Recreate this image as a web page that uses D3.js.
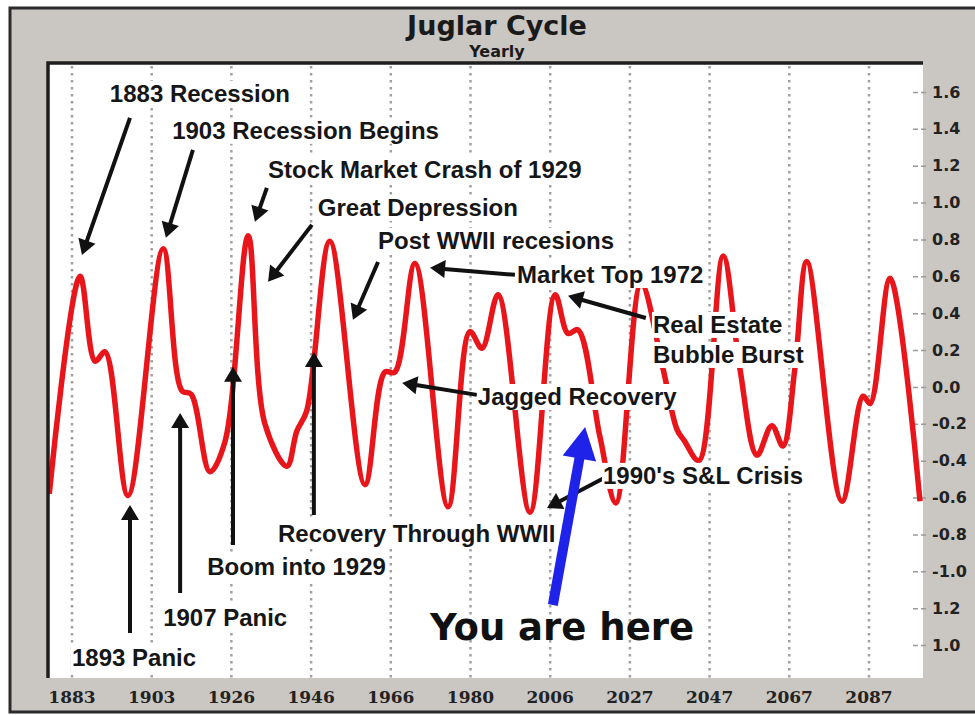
<!DOCTYPE html>
<html>
<head>
<meta charset="utf-8">
<script src="https://cdn.jsdelivr.net/npm/d3@7"></script>
<style>
  body { margin: 0; background: #fff; }
  svg { display: block; }
</style>
</head>
<body>
<svg id="chart" width="975" height="715"></svg>
<script>
// tick labels as printed on the original chart (odd ones kept as is)
const xTickYears = [1883, 1903, 1926, 1946, 1966, 1980, 2006, 2027, 2047, 2067, 2087];
const yTickValues = d3.range(16).map(i => +(1.6 - 0.2 * i).toFixed(1));
const yTickLabels = ["1.6", "1.4", "1.2", "1.0", "0.8", "0.6", "0.4", "0.2", "0.0",
                     "-0.2", "-0.4", "-0.6", "-0.8", "-1.0", "1.2", "1.0"];

// the cycle (turning points and shoulders)
const cycleYears = [1877.3, 1885.0, 1888.8, 1891.3, 1897.05, 1906.3, 1911.7, 1914.4, 1919.8, 1924.1,
                    1930.2, 1934.4, 1939.95, 1942.4, 1944.9, 1950.7, 1959.5, 1964.5, 1966.7, 1970.25,
                    1976.05, 1979.9, 1983.75, 1989.0, 1999.4, 2007.3, 2010.7, 2013.3, 2019.1, 2023.3,
                    2029.8, 2035.3, 2038.8, 2040.6, 2044.3, 2050.4, 2054.6, 2058.9, 2062.6, 2065.4,
                    2068.4, 2071.4, 2080.2, 2085.5, 2087.3, 2092.3, 2099.8];
const cycleValues = [-0.58, 0.60, 0.14, 0.19, -0.59, 0.75, -0.02, -0.04, -0.46, -0.30,
                     0.82, -0.20, -0.43, -0.24, -0.13, 0.79, -0.53, 0.08, 0.08, 0.67,
                     -0.65, 0.30, 0.21, 0.50, -0.68, 0.50, 0.29, 0.31, -0.27, -0.63,
                     0.56, 0.10, -0.23, -0.29, -0.40, 0.71, 0.10, -0.37, -0.21, -0.32,
                     0.10, 0.68, -0.62, -0.05, -0.09, 0.59, -0.62];

// annotations, in chart units (year, value)
const labels = [
  { text: "1883 Recession", at: [1892.5, 1.547] },
  { text: "1903 Recession Begins", at: [1908.9, 1.346] },
  { text: "Stock Market Crash of 1929", at: [1935.2, 1.134] },
  { text: "Great Depression", at: [1947.7, 0.928] },
  { text: "Post WWII recesions", at: [1962.8, 0.749] },
  { text: "Market Top 1972", at: [1995.2, 0.564] },
  { text: "Real Estate", at: [2032.8, 0.293] },
  { text: "Bubble Burst", at: [2032.8, 0.130] },
  { text: "Jagged Recovery", at: [1982.4, -0.098] },
  { text: "1990's S&L Crisis", at: [2019.9, -0.526] },
  { text: "Recovery Through WWII", at: [1937.7, -0.841] },
  { text: "Boom into 1929", at: [1919.0, -1.020] },
  { text: "1907 Panic", at: [1906.3, -1.297] },
  { text: "1893 Panic", at: [1883.0, -1.514] }
];
const arrows = [
  { from: [1897.55, 1.46], to: [1885.5, 0.716] },
  { from: [1914.9, 1.286], to: [1907.1, 0.809] },
  { from: [1934.9, 1.08], to: [1931.9, 0.896] },
  { from: [1946.2, 0.879], to: [1935.2, 0.57] },
  { from: [1962.8, 0.678], to: [1956.5, 0.364] },
  { from: [1994.5, 0.608], to: [1972.9, 0.646] },
  { from: [2031.0, 0.374], to: [2010.7, 0.494] },
  { from: [1982.1, -0.043], to: [1968.0, 0.022] },
  { from: [2020.2, -0.494], to: [2004.95, -0.657] },
  { from: [1897.55, -1.335], to: [1897.55, -0.64] },
  { from: [1911.2, -1.118], to: [1911.2, -0.141] },
  { from: [1926.4, -0.858], to: [1926.4, 0.109] },
  { from: [1946.7, -0.695], to: [1946.7, 0.19] }
];
const hereLabel = { text: "You are here", at: [1972.9, -1.373] };
const hereArrow = { from: [2006.7, -1.183], to: [2015.2, -0.217] };

const W = 975, H = 715;
const plot = { left: 48, right: 923, top: 63, bottom: 678 };
const tickStep = 79.7;

const svg = d3.select("#chart");

// gray frame
svg.append("rect")
  .attr("x", 10).attr("y", 8).attr("width", W).attr("height", H - 11)
  .attr("fill", "#cac6c2").attr("stroke", "#2b2b2b").attr("stroke-width", 3);

svg.append("rect")
  .attr("x", plot.left).attr("y", plot.top)
  .attr("width", plot.right - plot.left).attr("height", plot.bottom - plot.top)
  .attr("fill", "#fff");

// title
svg.append("text")
  .attr("x", 497).attr("y", 35)
  .attr("text-anchor", "middle")
  .style("font", "bold 27px 'DejaVu Sans'")
  .attr("fill", "#1a1a1a")
  .text("Juglar Cycle");
svg.append("text")
  .attr("x", 497).attr("y", 57)
  .attr("text-anchor", "middle")
  .style("font", "bold 16px 'DejaVu Sans'")
  .attr("fill", "#1a1a1a")
  .text("Yearly");

// scales: the x labels are evenly spaced, so a piecewise linear scale
const x = d3.scaleLinear()
  .domain(xTickYears)
  .range(xTickYears.map((d, i) => plot.left + 24 + i * tickStep));
const y = d3.scaleLinear()
  .domain([-1.4, 1.6])
  .range([plot.bottom - 33, plot.top + 29]);

// dotted grid
svg.append("g")
  .selectAll("line")
  .data(xTickYears)
  .join("line")
    .attr("x1", d => x(d)).attr("x2", d => x(d))
    .attr("y1", plot.top + 3).attr("y2", plot.bottom)
    .attr("stroke", "#a0a0a0")
    .attr("stroke-width", 2.5)
    .attr("stroke-dasharray", "2.5,4.5");

// x labels
svg.append("g")
  .selectAll("text")
  .data(xTickYears)
  .join("text")
    .attr("x", d => x(d)).attr("y", 703)
    .attr("text-anchor", "middle")
    .style("font", "bold 17px 'DejaVu Serif'")
    .attr("fill", "#222")
    .text(d => d);

// y axis on the right
const yAxis = svg.append("g")
  .attr("transform", `translate(${plot.right - 10},0)`)
  .call(d3.axisRight(y)
    .tickValues(yTickValues)
    .tickFormat((d, i) => yTickLabels[i])
    .tickSize(14)
    .tickPadding(5));
yAxis.select(".domain").remove();
yAxis.selectAll(".tick line")
  .attr("stroke", "#9a9a9a")
  .attr("stroke-width", 1.5)
  .attr("stroke-dasharray", "5,3");
yAxis.selectAll(".tick text")
  .style("font", "bold 16px 'DejaVu Sans'")
  .attr("fill", "#222");

// the cycle line
svg.append("clipPath").attr("id", "clip")
  .append("rect")
  .attr("x", plot.left).attr("y", plot.top)
  .attr("width", plot.right - plot.left).attr("height", plot.bottom - plot.top);

const line = d3.line()
  .x((d, i) => x(cycleYears[i]))
  .y(d => y(d))
  .curve(d3.curveCatmullRom.alpha(0.5));

svg.append("path")
  .datum(cycleValues)
  .attr("clip-path", "url(#clip)")
  .attr("fill", "none")
  .attr("stroke", "#e8161b")
  .attr("stroke-width", 5.5)
  .attr("stroke-linejoin", "round")
  .attr("d", line);

// plot border (top and left)
svg.append("path")
  .attr("d", `M${plot.left},${plot.bottom}V${plot.top}H${plot.right}`)
  .attr("fill", "none")
  .attr("stroke", "#1e1e1e")
  .attr("stroke-width", 3.5);

// arrow with a triangular head
function drawArrow(g, a, width, headLen, headW, color) {
  const x1 = x(a.from[0]), y1 = y(a.from[1]);
  const x2 = x(a.to[0]), y2 = y(a.to[1]);
  const len = Math.hypot(x2 - x1, y2 - y1);
  const ux = (x2 - x1) / len, uy = (y2 - y1) / len;
  const bx = x2 - ux * headLen, by = y2 - uy * headLen;
  g.append("line")
    .attr("x1", x1).attr("y1", y1)
    .attr("x2", bx + ux * 1).attr("y2", by + uy * 1)
    .attr("stroke", color).attr("stroke-width", width);
  g.append("path")
    .attr("d", `M${x2},${y2}L${bx - uy * headW / 2},${by + ux * headW / 2}L${bx + uy * headW / 2},${by - ux * headW / 2}Z`)
    .attr("fill", color);
}

const arrowG = svg.append("g");
arrows.forEach(a => drawArrow(arrowG, a, 4, 15, 18, "#111"));

// labels on white boxes, which hide the line behind them as in the original
const labelG = svg.append("g");
labels.forEach(l => {
  const g = labelG.append("g");
  const t = g.append("text")
    .attr("x", x(l.at[0])).attr("y", y(l.at[1]))
    .style("font", "bold 24px 'Liberation Sans', Arial, sans-serif")
    .attr("fill", "#161616")
    .text(l.text);
  const b = t.node().getBBox();
  g.insert("rect", "text")
    .attr("x", b.x - 1).attr("y", b.y + 1)
    .attr("width", b.width + 2).attr("height", b.height - 1)
    .attr("fill", "#fff");
});

drawArrow(svg.append("g"), hereArrow, 10, 32, 34, "#1f22e8");

svg.append("text")
  .attr("x", x(hereLabel.at[0])).attr("y", y(hereLabel.at[1]))
  .style("font", "bold 37px 'DejaVu Sans'")
  .attr("fill", "#111")
  .text(hereLabel.text);
</script>
</body>
</html>
